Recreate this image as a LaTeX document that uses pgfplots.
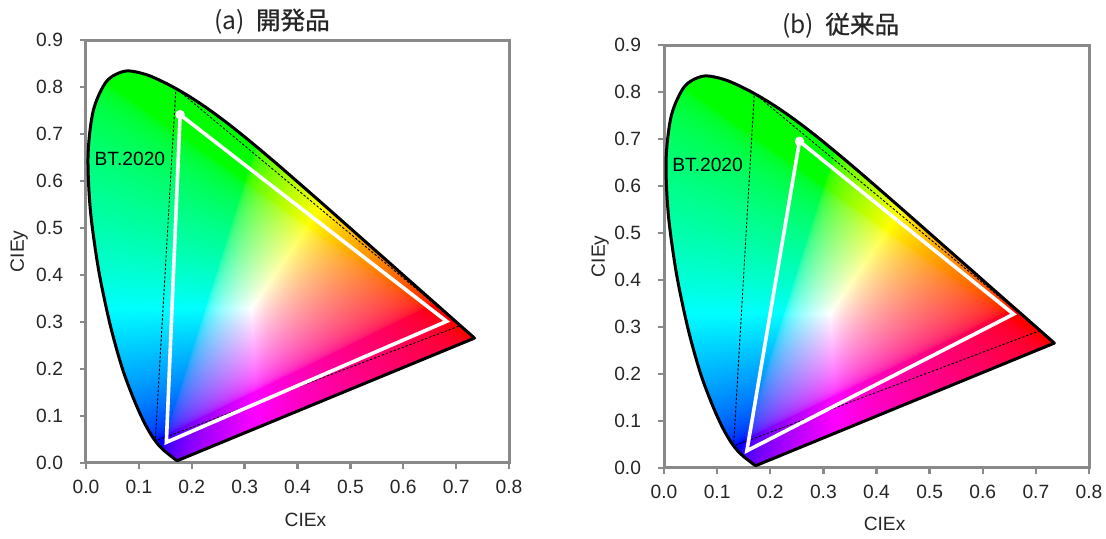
\documentclass[border=0pt]{standalone}
\usepackage{pgfplots}
\pgfplotsset{compat=1.18}
\usepackage{pgfplotstable}
\usepackage{fontspec}
\setmainfont{Liberation Sans}
\newfontfamily\cjk{Noto Sans CJK JP}
\newfontfamily\cjkb[FakeBold=0.8]{Noto Sans CJK JP}
\definecolor{framegray}{RGB}{137,137,137}
\definecolor{txt}{RGB}{38,38,38}

% colour of the chromaticity area (xy -> linear sRGB, clipped, normalised, gamma)
\pgfdeclarefunctionalshading{cie}{\pgfpointorigin}{\pgfpoint{100bp}{100bp}}{}{
 0.01658 mul 0.4097 sub
 exch 0.014616 mul 0.3615 sub
 exch
 2 copy add 1 exch sub
 2 index 3.2406 mul 2 index 1.5372 mul sub 1 index 0.4986 mul sub dup 0 lt {pop 0} if
 3 index -0.9689 mul 3 index 1.8758 mul add 2 index 0.0415 mul add dup 0 lt {pop 0} if
 4 index 0.0557 mul 4 index 0.2040 mul sub 3 index 1.0570 mul add dup 0 lt {pop 0} if
 6 3 roll pop pop pop
 2 index 2 index 2 copy lt {exch} if pop
 1 index 2 copy lt {exch} if pop
 0.000001 add
 4 1 roll
 3 index div 3 1 roll
 3 index div 3 1 roll
 3 index div 3 1 roll
 4 -1 roll pop
 0.4545 exp 3 1 roll
 0.4545 exp 3 1 roll
 0.4545 exp 3 1 roll
}

% CIE 1931 spectral locus (380-700 nm)
\pgfplotstableread{
x y
0.1741 0.0050
0.1740 0.0050
0.1738 0.0049
0.1736 0.0049
0.1733 0.0048
0.1730 0.0048
0.1726 0.0048
0.1721 0.0048
0.1714 0.0051
0.1703 0.0058
0.1689 0.0069
0.1669 0.0086
0.1644 0.0109
0.1611 0.0138
0.1566 0.0177
0.1510 0.0227
0.1440 0.0297
0.1355 0.0399
0.1241 0.0578
0.1096 0.0868
0.0913 0.1327
0.0687 0.2007
0.0454 0.2950
0.0235 0.4127
0.0082 0.5384
0.0039 0.6548
0.0139 0.7502
0.0389 0.8120
0.0743 0.8338
0.1142 0.8262
0.1547 0.8059
0.1929 0.7816
0.2296 0.7543
0.2658 0.7243
0.3016 0.6923
0.3373 0.6589
0.3731 0.6245
0.4087 0.5896
0.4441 0.5547
0.4788 0.5202
0.5125 0.4866
0.5448 0.4544
0.5752 0.4242
0.6029 0.3965
0.6270 0.3725
0.6482 0.3514
0.6658 0.3340
0.6801 0.3197
0.6915 0.3083
0.7006 0.2993
0.7079 0.2920
0.7140 0.2859
0.7190 0.2809
0.7230 0.2770
0.7260 0.2740
0.7283 0.2717
0.7300 0.2700
0.7311 0.2689
0.7320 0.2680
0.7334 0.2666
0.7344 0.2656
0.7347 0.2653
}\locus

% BT.2020 primaries
\pgfplotstableread{
x y
0.708 0.292
0.170 0.797
0.131 0.046
}\bt

% developed product
\pgfplotstableread{
x y
0.682 0.301
0.178 0.741
0.152 0.0435
}\devel

% conventional product
\pgfplotstableread{
x y
0.658 0.327
0.255 0.695
0.156 0.036
}\conv

\pgfplotsset{
  ciestyle/.style={
    scale only axis,
    height=211.35pt,
    xmin=0, xmax=0.8, ymin=0, ymax=0.9,
    xtick={0,0.1,0.2,0.3,0.4,0.5,0.6,0.7,0.8},
    ytick={0,0.1,0.2,0.3,0.4,0.5,0.6,0.7,0.8,0.9},
    /pgf/number format/fixed,
    /pgf/number format/fixed zerofill,
    /pgf/number format/precision=1,
    /pgf/number format/assume math mode=true,
    axis line style={framegray, line width=1.5pt},
    every tick/.style={framegray, line width=1.2pt},
    major tick length=3pt,
    tick align=outside,
    tick pos=left,
    tick label style={font=\fontsize{9.6}{11}\selectfont, text=txt},
    xticklabel style={yshift=-2pt},
    yticklabel style={xshift=-5pt},
    label style={font=\fontsize{9.6}{11}\selectfont, text=txt},
    xlabel={CIEx}, ylabel={CIEy},
    every axis title shift=0pt,
    clip=false,
  },
  locusfill/.style={draw=none, shading=cie, no markers},
  locusline/.style={black, line width=1.5pt, line join=round, no markers, smooth, tension=0.5},
  btline/.style={black, line width=0.45pt, dash pattern=on 1.2pt off 0.9pt, no markers},
  gamut/.style={white, line width=1.8pt, line join=miter, mark=*, mark indices={2}, mark size=1.4pt, mark options={white, solid}},
}

\begin{document}
\begin{tikzpicture}
\useasboundingbox (0,0) rectangle (553pt,269pt);

\begin{axis}[ciestyle, width=211.5pt, at={(43pt,37.65pt)}, anchor=south west,
  title={(a)\hspace{0.45em}{\cjkb 開発品}},
  title style={at={(axis description cs:0.44,1.044)}, anchor=center, font=\cjk\fontsize{12.3}{14}\selectfont, text=txt},
  xlabel style={at={(axis description cs:0.519,-0.135)}, anchor=center},
  ylabel style={at={(axis description cs:-0.158,0.5)}, anchor=center},
]
\addplot[locusfill] table {\locus} -- cycle;
\addplot[btline] table {\bt} -- cycle;
\addplot[gamut] table {\devel} -- cycle;
\addplot[locusline] table {\locus} -- cycle;
\node[font=\fontsize{9.6}{11}\selectfont, text=black] at (axis cs:0.083,0.646) {BT.2020};
\end{axis}

\begin{axis}[ciestyle, width=212.5pt, at={(332pt,35.15pt)}, anchor=south west,
  title={(b)\hspace{0.45em}{\cjkb 従来品}},
  title style={at={(axis description cs:0.416,1.046)}, anchor=center, font=\cjk\fontsize{12.3}{14}\selectfont, text=txt},
  xlabel style={at={(axis description cs:0.519,-0.132)}, anchor=center},
  ylabel style={at={(axis description cs:-0.15,0.5)}, anchor=center},
]
\addplot[locusfill] table {\locus} -- cycle;
\addplot[btline] table {\bt} -- cycle;
\addplot[gamut] table {\conv} -- cycle;
\addplot[locusline] table {\locus} -- cycle;
\node[font=\fontsize{9.6}{11}\selectfont, text=black] at (axis cs:0.082,0.645) {BT.2020};
\end{axis}
\end{tikzpicture}
\end{document}
